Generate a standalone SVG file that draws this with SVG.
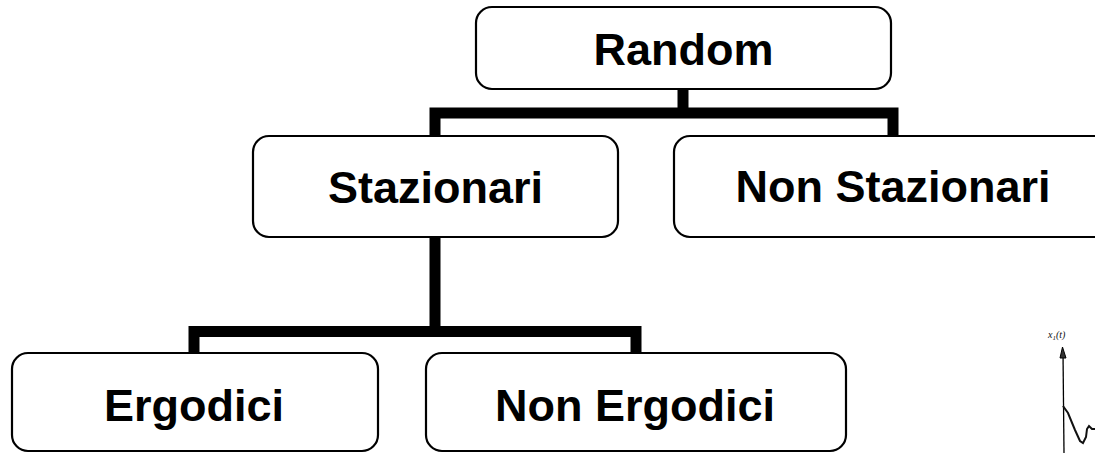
<svg xmlns="http://www.w3.org/2000/svg" width="1095" height="453" viewBox="0 0 1095 453">
<style>
.box{fill:#fff;stroke:#000;stroke-width:2.2}
.lbl{font-family:"Liberation Sans",Arial,sans-serif;font-weight:bold;font-size:45px;fill:#000;text-anchor:middle}
.conn{fill:none;stroke:#000;stroke-width:11;stroke-linejoin:miter;stroke-linecap:butt}
</style>
<rect width="1095" height="453" fill="#fff"/>
<g id="connectors">
<polyline class="conn" points="683,86 683,113"/>
<polyline class="conn" points="435,140 435,113 893,113 893,140"/>
<polyline class="conn" points="435,234 435,331.5"/>
<polyline class="conn" points="194,357 194,331.5 636,331.5 636,357"/>
</g>
<g id="node-random">
<rect class="box" x="476" y="7" width="415" height="82" rx="16"/>
<text class="lbl" x="683.5" y="65">Random</text>
</g>
<g id="node-stazionari">
<rect class="box" x="253" y="136" width="365" height="101" rx="16"/>
<text class="lbl" x="435.5" y="203">Stazionari</text>
</g>
<g id="node-nonstazionari">
<rect class="box" x="674" y="136" width="438" height="101" rx="16"/>
<text class="lbl" x="893" y="202">Non Stazionari</text>
</g>
<g id="node-ergodici">
<rect class="box" x="12" y="353" width="366" height="98" rx="16"/>
<text class="lbl" x="194" y="421">Ergodici</text>
</g>
<g id="node-nonergodici">
<rect class="box" x="426" y="353" width="420" height="98" rx="16"/>
<text class="lbl" x="635" y="421">Non Ergodici</text>
</g>
<g id="graph-fragment">
<line x1="1063" y1="352" x2="1064" y2="453" stroke="#000" stroke-width="1.3"/>
<polygon points="1062.5,347 1060,358 1066,358" fill="#333" stroke="#000" stroke-width="1"/>
<polyline points="1063,406 1068,413 1075,430 1080,441 1083,443 1086,437 1087,429 1089,426 1092,429 1095,429" fill="none" stroke="#111" stroke-width="2"/>
<text x="1048" y="338" font-family="'Liberation Serif',serif" font-style="italic" font-size="10" fill="#111">x<tspan font-size="7" dy="2">1</tspan><tspan dy="-2">(t)</tspan></text>
</g>
</svg>
